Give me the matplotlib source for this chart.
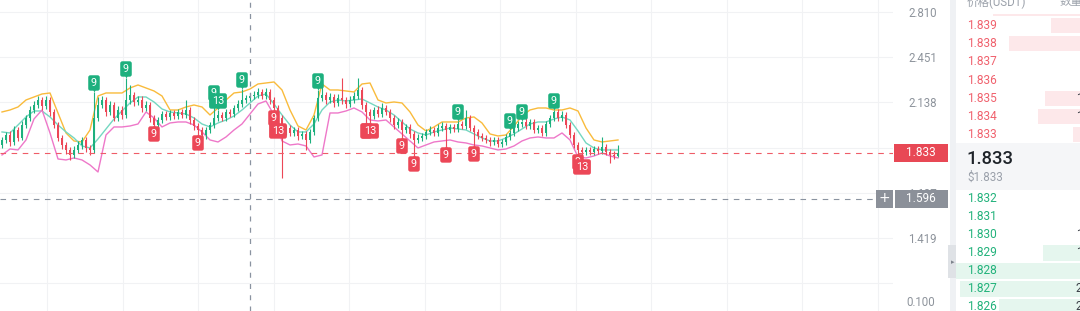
import numpy as np
import matplotlib
matplotlib.use("Agg")
import matplotlib.pyplot as plt
from matplotlib.patches import Rectangle
from matplotlib.ticker import NullLocator, FixedLocator
from matplotlib.transforms import offset_copy

plt.rcParams['font.family'] = ['Roboto', 'Noto Sans CJK SC', 'DejaVu Sans']

# ---------------------------------------------------------------
# Data
# ---------------------------------------------------------------
first_open = 1.8798

closes = [
    1.9085, 1.9376, 1.8969, 1.9671, 1.9201, 1.9971, 2.0400, 2.0900, 2.1219, 2.1543,
    2.1155, 2.1543, 2.0774, 1.9971, 1.9201, 1.8798, 1.8515, 1.8237, 1.8515, 1.8798,
    1.9085, 1.8627, 1.8515, 2.0400, 2.1219, 2.1543, 2.0774, 2.1219, 2.0400, 2.0900,
    2.0586, 2.1543, 2.1872, 2.1413, 2.1543, 2.1027, 2.1219, 2.0400, 1.9971, 2.0276,
    2.0648, 2.0462, 2.0711, 2.0524, 2.0774, 2.0586, 2.0900, 2.0276, 1.9911, 1.9671,
    1.9376, 1.9671, 1.9971, 2.0400, 2.0586, 2.0400, 2.0774, 2.0648, 2.1027, 2.1283,
    2.1543, 2.1674, 2.1806, 2.1872, 2.2072, 2.1806, 2.2072, 2.1543, 2.1027, 2.0400,
    1.9553, 1.9791, 1.9494, 1.9671, 1.9317, 1.9435, 1.9085, 1.9553, 2.0400, 2.1674,
    2.1872, 2.1543, 2.1740, 2.1348, 2.1674, 2.1543, 2.1283, 2.1543, 2.1806, 2.2206,
    2.1219, 2.0774, 2.0524, 2.0900, 2.0648, 2.1027, 2.0774, 2.0400, 1.9971, 2.0154,
    1.9671, 1.9851, 1.9435, 1.9085, 1.9201, 1.9317, 1.9553, 1.9671, 1.9494, 1.9791,
    1.9911, 1.9671, 1.9851, 1.9731, 2.0032, 1.9911, 2.0400, 1.9791, 1.9553, 1.9317,
    1.9201, 1.9085, 1.8969, 1.9085, 1.8855, 1.8969, 1.9259, 1.9494, 1.9791, 2.0032,
    2.0154, 1.9911, 2.0154, 1.9671, 1.9791, 1.9494, 2.0032, 2.0400, 2.0774, 2.0400,
    2.0586, 1.9971, 1.9376, 1.8798, 1.8515, 1.8403, 1.8515, 1.8403, 1.8571, 1.8459,
    1.8684, 1.8403, 1.8237, 1.8182, 1.8330,
]

highs = [
    1.9259, 1.9553, 1.9612, 1.9911, 1.9851, 2.0215, 2.0586, 2.1155, 2.1478, 2.1806,
    2.1740, 2.1806, 2.1740, 2.0963, 2.0154, 1.9376, 1.8969, 1.8684, 1.8741, 1.9027,
    1.9259, 1.9259, 1.8798, 2.2072, 2.1740, 2.1806, 2.1740, 2.1478, 2.1413, 2.1155,
    2.1155, 2.3028, 2.2545, 2.2072, 2.1806, 2.1806, 2.1478, 2.1413, 2.0586, 2.0462,
    2.0837, 2.0837, 2.0900, 2.0900, 2.0963, 2.0963, 2.1543, 2.1091, 2.0462, 2.0093,
    1.9851, 1.9851, 2.0154, 2.1413, 2.0900, 2.0774, 2.0963, 2.0963, 2.1219, 2.1543,
    2.2273, 2.1872, 2.2005, 2.2139, 2.2341, 2.2273, 2.2341, 2.2273, 2.1740, 2.1219,
    2.0586, 1.9971, 1.9971, 1.9851, 1.9851, 1.9612, 1.9612, 1.9731, 2.0586, 2.2206,
    2.2545, 2.2072, 2.2005, 2.1938, 2.1938, 2.3028, 2.1740, 2.1806, 2.2072, 2.3028,
    2.2409, 2.1413, 2.0963, 2.1091, 2.1155, 2.1348, 2.1219, 2.0963, 2.0586, 2.0400,
    2.0338, 2.0032, 2.0032, 1.9612, 1.9435, 1.9494, 1.9731, 1.9911, 1.9851, 2.0032,
    2.0154, 2.0093, 2.0032, 2.0032, 2.0215, 2.0215, 2.0900, 2.0586, 1.9971, 1.9731,
    1.9494, 1.9376, 1.9259, 1.9259, 1.9259, 1.9143, 1.9435, 1.9671, 1.9971, 2.0215,
    2.0215, 2.0462, 2.0338, 2.0338, 1.9971, 1.9971, 2.0215, 2.0586, 2.0900, 2.0963,
    2.0837, 2.0774, 2.0154, 1.9553, 1.8969, 1.8684, 1.8684, 1.8684, 1.8741, 1.8741,
    1.9259, 1.8855, 1.8571, 1.8459, 1.8798,
]

lows = [
    1.8627, 1.8912, 1.8741, 1.8798, 1.9027, 1.9085, 1.9791, 2.0215, 2.0711, 2.1027,
    2.0900, 2.0963, 2.0524, 1.9791, 1.9027, 1.8571, 1.8292, 1.7963, 1.8072, 1.8347,
    1.8571, 1.8403, 1.8237, 1.8347, 2.0215, 2.1027, 2.0524, 2.0586, 2.0215, 2.0215,
    2.0338, 2.0400, 2.1283, 2.1155, 2.1219, 2.0774, 2.0837, 2.0154, 1.9971, 1.9791,
    2.0093, 2.0276, 2.0276, 2.0338, 2.0338, 2.0400, 2.0400, 2.0032, 1.9671, 1.9435,
    1.9085, 1.9143, 1.9494, 1.9791, 2.0215, 2.0215, 2.0215, 2.0462, 2.0462, 2.0837,
    2.1091, 2.1348, 2.1478, 2.1608, 2.1674, 2.1608, 2.1608, 2.1283, 2.0963, 2.0154,
    1.7010, 1.9376, 1.9317, 1.9317, 1.9085, 1.9143, 1.8515, 1.8912, 1.9376, 2.0215,
    2.1478, 2.1283, 2.1348, 2.1091, 2.1155, 2.1283, 2.1027, 2.1091, 2.1348, 2.1608,
    2.0963, 2.0154, 2.0154, 2.0338, 2.0462, 2.0462, 2.0586, 2.0154, 1.9731, 1.9791,
    1.9259, 1.9494, 1.9201, 1.8237, 1.8912, 1.9027, 1.9143, 1.9376, 1.9317, 1.9317,
    1.9612, 1.8741, 1.9494, 1.9553, 1.9553, 1.9731, 1.9731, 1.9612, 1.8798, 1.9143,
    1.9027, 1.8912, 1.8741, 1.8798, 1.8684, 1.8684, 1.8798, 1.9085, 1.9317, 1.9612,
    1.9851, 1.9731, 1.9731, 1.9494, 1.9494, 1.9317, 1.9317, 1.9851, 2.0215, 2.0215,
    2.0215, 1.9791, 1.9201, 1.8627, 1.8347, 1.8072, 1.8237, 1.8237, 1.8237, 1.8292,
    1.8292, 1.8237, 1.7801, 1.8017, 1.8127,
]

# Bollinger bands, one value every second candle
band_upper = [
    2.0774, 2.0900, 2.1091, 2.1543, 2.1740, 2.1938, 2.2005, 2.0711, 1.9494, 1.9027,
    1.8969, 1.9671, 2.1806, 2.2005, 2.2005, 2.2005, 2.2341, 2.2545, 2.2341, 2.2139,
    2.1806, 2.0900, 2.0900, 2.1091, 2.1219, 2.1091, 2.0586, 2.1027, 2.1543, 2.2005,
    2.2072, 2.2273, 2.2613, 2.2682, 2.2751, 2.2206, 2.0900, 1.9911, 1.9671, 2.0586,
    2.2613, 2.2206, 2.2206, 2.2139, 2.2072, 2.2613, 2.2682, 2.1543, 2.1348, 2.1413,
    2.1348, 2.0774, 1.9971, 1.9612, 1.9851, 2.0154, 2.0154, 2.0154, 2.0400, 2.0462,
    2.0093, 1.9435, 1.9317, 1.9376, 1.9911, 2.0524, 2.0900, 2.1027, 2.1027, 2.0900,
    2.0900, 2.1027, 2.0837, 1.9791, 1.9085, 1.8969, 1.9027, 1.9085,
]
band_mid = [
    1.9553, 1.9494, 1.9971, 2.0462, 2.0837, 2.0837, 2.0462, 1.9971, 1.9553, 1.9201,
    1.8741, 1.8627, 1.9143, 1.9731, 2.0338, 2.0837, 2.1348, 2.1740, 2.1740, 2.1413,
    2.0963, 2.0774, 2.0711, 2.0648, 2.0400, 2.0032, 1.9851, 2.0093, 2.0276, 2.0524,
    2.0900, 2.1348, 2.1806, 2.1938, 2.1283, 2.0586, 1.9971, 1.9553, 1.9553, 2.0032,
    2.0900, 2.1413, 2.1543, 2.1478, 2.1543, 2.1608, 2.1348, 2.1091, 2.0900, 2.0586,
    2.0154, 1.9731, 1.9494, 1.9376, 1.9553, 1.9671, 1.9791, 1.9731, 1.9671, 1.9435,
    1.9201, 1.9027, 1.9027, 1.9201, 1.9435, 1.9731, 2.0032, 2.0154, 2.0154, 2.0338,
    2.0462, 2.0276, 1.9612, 1.8912, 1.8627, 1.8515, 1.8515, 1.8515,
]
band_lower = [
    1.8237, 1.8571, 1.8515, 1.9085, 2.0338, 2.0900, 1.9494, 1.8017, 1.7963, 1.8072,
    1.7963, 1.7693, 1.7320, 1.9376, 1.9851, 1.9851, 1.9911, 2.0032, 2.0774, 2.0400,
    1.9851, 2.0093, 2.0154, 2.0154, 1.9971, 1.9553, 1.9085, 1.8969, 1.9259, 1.9671,
    2.0032, 2.0648, 2.1283, 2.1478, 2.0586, 1.9027, 1.8798, 1.8855, 1.8741, 1.8127,
    1.8237, 2.0711, 2.0711, 2.0837, 2.1027, 2.0774, 2.0276, 2.0215, 2.0276, 1.9851,
    1.9435, 1.9027, 1.8627, 1.8798, 1.8969, 1.9027, 1.9085, 1.8969, 1.8912, 1.8798,
    1.8741, 1.8627, 1.8515, 1.8571, 1.8741, 1.9027, 1.9201, 1.9259, 1.9201, 1.9201,
    1.9494, 1.9085, 1.8127, 1.8072, 1.8182, 1.8347, 1.8182, 1.8072,
]

# TD sequential counts
buy_idx = [23, 31, 53, 54, 60, 79, 114, 127, 130, 138]
buy_txt = ['9', '9', '9', '13', '9', '9', '9', '9', '9', '9']
sell_idx = [38, 49, 68, 69, 91, 92, 100, 103, 111, 118, 144, 145]
sell_txt = ['9', '9', '9', '13', '9', '13', '9', '9', '9', '9', '9', '13']

last_price = 1.833
cross_price = 1.596
cross_idx = 62

tick_prices = [2.810, 2.451, 2.138, 1.865, 1.627, 1.419, 1.238]
tick_labels = ['2.810', '2.451', '2.138', '1.865', '1.627', '1.419', '']

ask_prices = ['1.839', '1.838', '1.837', '1.836', '1.835', '1.834', '1.833']
ask_depth = [0.23, 0.57, 0.0, 0.0, 0.28, 0.34, 0.06]
ask_qty = ['', '', '', '', '1', '1', '']
bid_prices = ['1.832', '1.831', '1.830', '1.829', '1.828', '1.827', '1.826']
bid_depth = [0.0, 0.0, 0.0, 0.30, 0.99, 0.96, 0.65]
bid_qty = ['', '', '1', '1', '', '2', '2']

# -- colours ------------------------------------------------------
GREEN = "#1db07e"
RED = "#ec4757"
C_UP = "#f9bb3c"
C_MID = "#74d7c1"
C_LOW = "#ee78c9"
GRID = "#f1f2f4"
AXTXT = "#8e949c"

W, H = 1080, 311
fig = plt.figure(figsize=(W / 100, H / 100), dpi=100)
fig.patch.set_facecolor("white")


def px_rect(x0, y0, x1, y1, color, z=1):
    fig.add_artist(Rectangle((x0 / W, 1 - y1 / H), (x1 - x0) / W, (y1 - y0) / H,
                             transform=fig.transFigure, facecolor=color,
                             edgecolor="none", zorder=z))


def px_text(x, y, s, **kw):
    return fig.text(x / W, 1 - y / H, s, **kw)


# ---------------------------------------------------------------
# Price chart
# ---------------------------------------------------------------
ax = fig.add_axes([0, 0, 893 / W, 1])
ax.set_yscale("log")
ax.set_ylim(1.1366, 2.9166)
ax.set_xlim(-0.5, -0.5 + 893 / 4)
for sp in ax.spines.values():
    sp.set_visible(False)

ax.yaxis.set_major_locator(FixedLocator(tick_prices))
ax.yaxis.set_minor_locator(NullLocator())
ax.set_yticklabels(tick_labels)
ax.yaxis.tick_right()
ax.tick_params(axis="y", length=0, pad=10.8, labelsize=8.3, labelcolor=AXTXT)
ax.set_xticks([(47 + 75.5 * k - 2) / 4 for k in range(12)])
ax.tick_params(axis="x", length=0, labelbottom=False)
ax.grid(True, color=GRID, lw=0.8)
ax.set_axisbelow(True)

x = np.arange(len(closes))
c = np.array(closes)
o = np.r_[first_open, c[:-1]]
hi = np.array(highs)
lo = np.array(lows)
col = np.where(c >= o, GREEN, RED)

bx = np.arange(0, len(closes), 2)
ax.plot(bx, band_upper, color=C_UP, lw=1.0, zorder=2)
ax.plot(bx, band_mid, color=C_MID, lw=1.0, zorder=2)
ax.plot(bx, band_lower, color=C_LOW, lw=1.0, zorder=2)

ax.vlines(x, lo, hi, colors=col, lw=0.8, zorder=3)
b_lo = np.minimum(o, c)
b_hi = np.maximum(o, c)
ax.bar(x, np.maximum(b_hi - b_lo, 0.002), bottom=b_lo, width=0.68,
       color=col, linewidth=0, zorder=4)

# crosshair + last price
ax.axhline(last_price, color="#ef5c68", lw=0.8, ls=(0, (5, 5)), zorder=5)
ax.axhline(cross_price, xmax=876 / 893, color="#8a93a0", lw=0.8,
           ls=(0, (5, 5)), zorder=5)
ax.axvline(cross_idx, color="#8a93a0", lw=0.9, ls=(0, (4, 5)), zorder=5)

# -- TD sequential labels ----------------------------------------
tri_up = offset_copy(ax.transData, fig=fig, x=0, y=2.5, units="dots")
tri_dn = offset_copy(ax.transData, fig=fig, x=0, y=-2.5, units="dots")
for i, t in zip(buy_idx, buy_txt):
    ax.plot(i, highs[i], marker="v", ms=4, color=GREEN, mec="none",
            transform=tri_up, zorder=6)
    ax.annotate(t, xy=(i, highs[i]), xytext=(0, 9), textcoords="offset pixels",
                ha="center", va="center", fontsize=7.8, color="white", zorder=7,
                bbox=dict(boxstyle="round,pad=0.25,rounding_size=0.2",
                          fc=GREEN, ec="none"))
for i, t in zip(sell_idx, sell_txt):
    ax.plot(i, lows[i], marker="^", ms=4, color=RED, mec="none",
            transform=tri_dn, zorder=6)
    ax.annotate(t, xy=(i, lows[i]), xytext=(0, -9), textcoords="offset pixels",
                ha="center", va="center", fontsize=7.8, color="white", zorder=7,
                bbox=dict(boxstyle="round,pad=0.25,rounding_size=0.2",
                          fc=RED, ec="none"))

# -- price axis badges -------------------------------------------
px_text(921, 302, "0.100", ha="center", va="center", fontsize=8.3, color=AXTXT)
px_rect(894, 144, 948, 161.5, "#e84855", z=5)
px_text(921, 153, "1.833", ha="center", va="center", fontsize=8.5,
        color="white", zorder=6)
px_rect(895, 190, 948, 207.5, "#8b9099", z=5)
px_text(921, 199, "1.596", ha="center", va="center", fontsize=8.5,
        color="white", zorder=6)
px_rect(876, 190, 893, 207.5, "#8b9099", z=5)
px_text(884.5, 198.5, "+", ha="center", va="center", fontsize=10,
        color="white", zorder=6, family="DejaVu Sans")

# ---------------------------------------------------------------
# Order book panel
# ---------------------------------------------------------------
px_rect(950, 0, 956, H, "#eff1f4", z=1)
px_rect(948, 245, 956, 278, "#dfe2e6", z=2)
px_text(952.5, 262, "\u25b8", ha="center", va="center", fontsize=5,
        color="#7d838c", family="DejaVu Sans", zorder=3)

px_text(967, 2, "价格(USDT)", ha="left", va="center", fontsize=8.3,
        color="#9ba1aa")
px_text(1060, 2, "数量", ha="left", va="center", fontsize=8.3, color="#9ba1aa")
px_rect(993, 14, 1080, 16, "#fde8ea", z=1)

for k, (p, d, q) in enumerate(zip(ask_prices, ask_depth, ask_qty)):
    yc = 25.7 + 18.1 * k
    if d > 0:
        px_rect(1080 - 125 * d, yc - 7.5, 1080, yc + 7.5, "#fde8ea", z=1)
    px_text(967, yc, p, ha="left", va="center", fontsize=8.6, color="#f0616d",
            zorder=3)
    if q:
        px_text(1076, yc, q, ha="left", va="center", fontsize=8.6,
                color="#3c4048", zorder=3)

px_rect(956, 143, 1080, 190, "#f5f6f8", z=1)
px_text(966, 159.5, "1.833", ha="left", va="center", fontsize=13.2,
        color="#1e2329", weight="medium")
px_text(967, 177, "$1.833", ha="left", va="center", fontsize=8.4,
        color="#9aa0aa")

for k, (p, d, q) in enumerate(zip(bid_prices, bid_depth, bid_qty)):
    yc = 198.7 + 18.0 * k
    if d > 0:
        px_rect(1080 - 125 * d, yc - 8, 1080, yc + 8, "#e5f6ee", z=1)
    px_text(967, yc, p, ha="left", va="center", fontsize=8.6, color="#22b27b",
            zorder=3)
    if q:
        px_text(1076, yc, q, ha="left", va="center", fontsize=8.6,
                color="#3c4048", zorder=3)

fig.savefig("out.png", dpi=100, facecolor="white")
plt.close(fig)
